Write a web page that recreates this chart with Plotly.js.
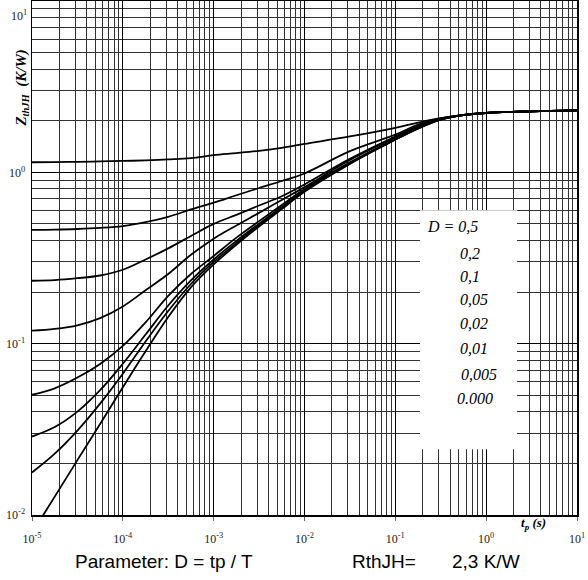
<!DOCTYPE html>
<html>
<head>
<meta charset="utf-8">
<script src="https://cdn.plot.ly/plotly-3.0.1.min.js"></script>
<style>html,body{margin:0;padding:0;background:#fff;}#chart{width:588px;height:580px;}</style>
</head>
<body>
<div id="chart"></div>
<script>
// pulse duration tp (s)
const tp = [1e-5, 1.78e-5, 3.16e-5, 5.62e-5, 1e-4, 1.78e-4, 3.16e-4, 5.62e-4, 1e-3, 1.78e-3, 3.16e-3, 5.62e-3, 1e-2, 3.16e-2, 0.1, 0.178, 0.316, 0.562, 1, 3.16, 10];
// Zth (K/W) for each duty cycle D
const z_05   = [1.145, 1.148, 1.152, 1.158, 1.165, 1.175, 1.19, 1.21, 1.26, 1.295, 1.335, 1.39, 1.465, 1.62, 1.82, 1.95, 2.07, 2.165, 2.225, 2.27, 2.30];
const z_02   = [0.461, 0.463, 0.467, 0.474, 0.486, 0.512, 0.55, 0.607, 0.665, 0.735, 0.81, 0.89, 0.985, 1.33, 1.66, 1.90, 2.065, 2.165, 2.225, 2.27, 2.30];
const z_01   = [0.233, 0.235, 0.241, 0.25, 0.27, 0.31, 0.36, 0.425, 0.50, 0.565, 0.64, 0.725, 0.85, 1.20, 1.62, 1.86, 2.055, 2.162, 2.222, 2.27, 2.30];
const z_005  = [0.119, 0.122, 0.128, 0.141, 0.165, 0.205, 0.255, 0.33, 0.41, 0.49, 0.58, 0.69, 0.82, 1.18, 1.595, 1.835, 2.045, 2.16, 2.22, 2.27, 2.30];
const z_002  = [0.0503, 0.0549, 0.0634, 0.0762, 0.097, 0.133, 0.19, 0.255, 0.325, 0.416, 0.519, 0.644, 0.80, 1.143, 1.565, 1.81, 2.035, 2.16, 2.22, 2.27, 2.30];
const z_001  = [0.0287, 0.0326, 0.0401, 0.0535, 0.0764, 0.113, 0.167, 0.234, 0.31, 0.398, 0.502, 0.628, 0.785, 1.13, 1.56, 1.81, 2.035, 2.16, 2.22, 2.27, 2.30];
const z_0005 = [0.0177, 0.0228, 0.0311, 0.0447, 0.0668, 0.103, 0.155, 0.223, 0.30, 0.387, 0.492, 0.618, 0.777, 1.125, 1.555, 1.805, 2.035, 2.16, 2.22, 2.27, 2.30];
const z_0    = [0.00785, 0.0128, 0.0209, 0.034, 0.0556, 0.0902, 0.143, 0.213, 0.29, 0.378, 0.483, 0.61, 0.77, 1.12, 1.55, 1.80, 2.03, 2.16, 2.22, 2.27, 2.30];

const series = [z_05, z_02, z_01, z_005, z_002, z_001, z_0005, z_0];
const legendLabels = ['D = 0,5', '0,2', '0,1', '0,05', '0,02', '0,01', '0,005', '0.000'];

const xTickVals = [1e-5, 1e-4, 1e-3, 1e-2, 1e-1, 1, 10];
const xTickText = ['10<sup>-5</sup>', '10<sup>-4</sup>', '10<sup>-3</sup>', '10<sup>-2</sup>', '10<sup>-1</sup>', '10<sup>0</sup>', '10<sup>1</sup>'];
const yTickVals = [0.01, 0.1, 1];
const yTickText = ['10<sup>-2</sup>', '10<sup>-1</sup>', '10<sup>0</sup>'];

const traces = series.map(s => ({
  x: tp, y: s, type: 'scatter', mode: 'lines',
  line: {color: '#000', width: 1.8, shape: 'spline', smoothing: 1},
  showlegend: false, hoverinfo: 'skip'
}));

const serif = '"Liberation Serif", "Times New Roman", Times, serif';
const sans = '"Liberation Sans", Arial, Helvetica, sans-serif';

// legend text positions (paper coords)
const legX = [0.7211, 0.7817, 0.7817, 0.7817, 0.7817, 0.7817, 0.7835, 0.7761];
const legY = [0.5609, 0.5097, 0.4636, 0.4183, 0.3716, 0.3230, 0.2724, 0.2276];

const annotations = legendLabels.map((t, i) => ({
  xref: 'paper', yref: 'paper', x: legX[i], y: legY[i], xanchor: 'left', yanchor: 'middle',
  text: '<i>' + t + '</i>', showarrow: false, font: {family: serif, size: 16, color: '#000'}
}));

annotations.push(
  {xref: 'paper', yref: 'paper', x: -0.018, y: 0.83, textangle: -90, xanchor: 'center', yanchor: 'middle',
   text: '<b><i>Z<sub>thJH</sub>  (K/W)</i></b>', showarrow: false, font: {family: serif, size: 15, color: '#000'}},
  {xref: 'paper', yref: 'paper', x: 0.921, y: -0.0156, xanchor: 'center', yanchor: 'middle',
   text: '<b><i>t<sub>p</sub> (s)</i></b>', showarrow: false, font: {family: serif, size: 13, color: '#000'}},
  {xref: 'paper', yref: 'paper', x: -0.0055, y: 0.971, xanchor: 'right', yanchor: 'middle',
   text: '10<sup>1</sup>', showarrow: false, font: {family: serif, size: 12, color: '#222'}},
  {xref: 'paper', yref: 'paper', x: 0.0752, y: -0.0895, xanchor: 'left', yanchor: 'middle',
   text: 'Parameter: D = tp / T', showarrow: false, font: {family: sans, size: 19, color: '#000'}},
  {xref: 'paper', yref: 'paper', x: 0.5835, y: -0.0895, xanchor: 'left', yanchor: 'middle',
   text: 'RthJH=', showarrow: false, font: {family: sans, size: 19, color: '#000'}},
  {xref: 'paper', yref: 'paper', x: 0.7670, y: -0.0895, xanchor: 'left', yanchor: 'middle',
   text: '2,3 K/W', showarrow: false, font: {family: sans, size: 19, color: '#000'}}
);

const layout = {
  width: 588, height: 580,
  margin: {l: 32, r: 11, t: 1, b: 65},
  paper_bgcolor: '#fff', plot_bgcolor: '#fff',
  showlegend: false,
  xaxis: {
    type: 'log', range: [-5, 1], fixedrange: true,
    tickmode: 'array', tickvals: xTickVals, ticktext: xTickText,
    ticks: 'outside', ticklen: 4, tickcolor: '#666', ticklabelstandoff: 8,
    tickfont: {family: serif, size: 12, color: '#222'},
    showgrid: true, gridcolor: '#000', gridwidth: 1,
    minor: {dtick: 'D1', showgrid: true, gridcolor: '#333', gridwidth: 1, ticks: ''},
    showline: true, linecolor: '#000', linewidth: 1.5, mirror: true, zeroline: false
  },
  yaxis: {
    type: 'log', range: [-2, 1], fixedrange: true,
    tickmode: 'array', tickvals: yTickVals, ticktext: yTickText,
    ticks: '', ticklabelstandoff: 3,
    tickfont: {family: serif, size: 12, color: '#222'},
    showgrid: true, gridcolor: '#000', gridwidth: 1,
    minor: {dtick: 'D1', showgrid: true, gridcolor: '#333', gridwidth: 1, ticks: ''},
    showline: true, linecolor: '#000', linewidth: 1.5, mirror: true, zeroline: false
  },
  shapes: [
    {type: 'rect', xref: 'paper', yref: 'paper', x0: 0.712, x1: 0.890, y0: 0.128, y1: 0.593,
     fillcolor: '#fff', line: {width: 0}, layer: 'above'}
  ],
  annotations: annotations
};

Plotly.newPlot('chart', traces, layout, {staticPlot: true, displayModeBar: false});
</script>
</body>
</html>
